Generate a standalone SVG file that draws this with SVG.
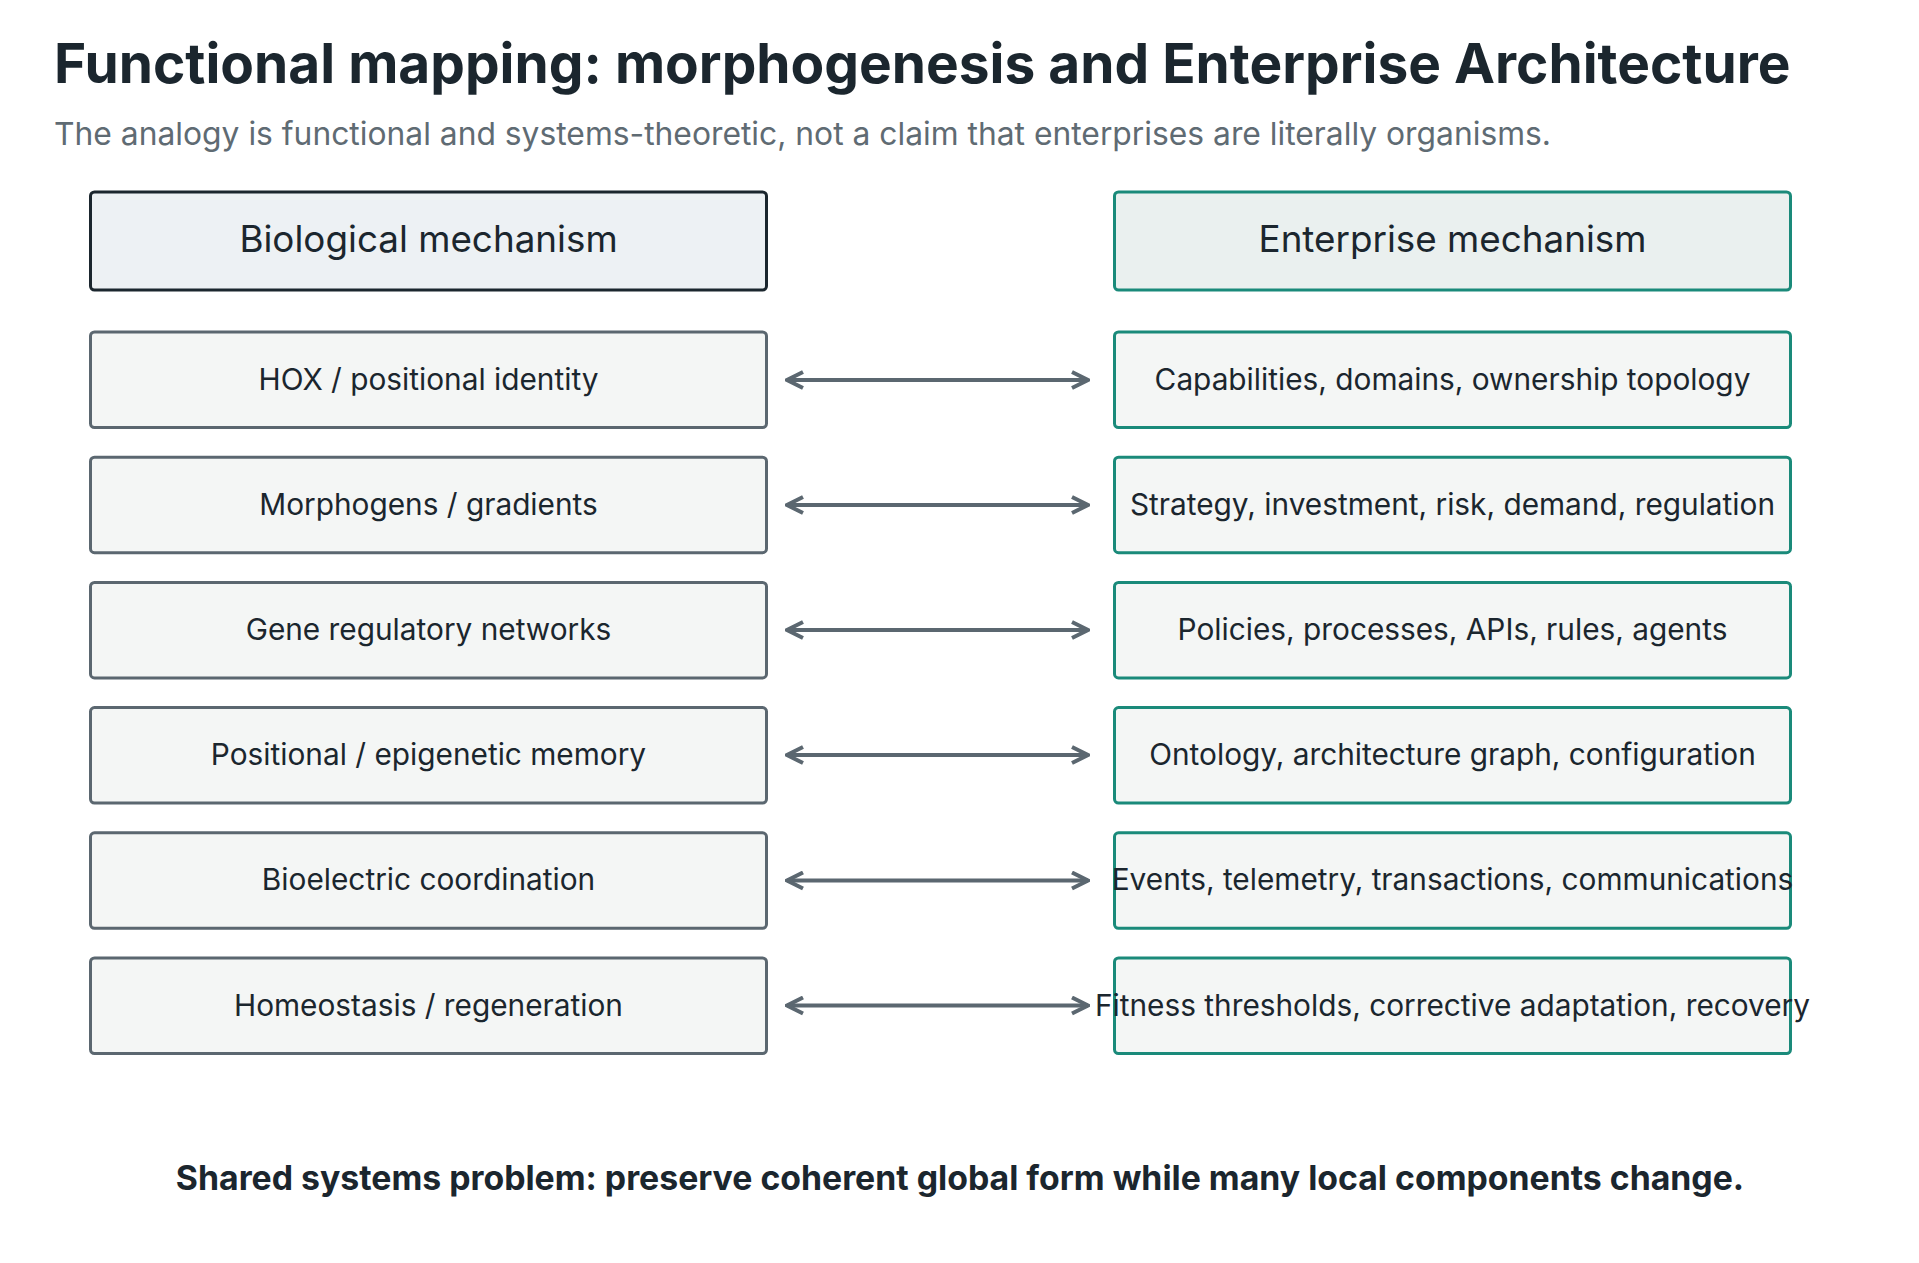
<svg xmlns="http://www.w3.org/2000/svg" width="1919" height="1263" viewBox="0 0 1919 1263">
<style>
text{font-family:Inter,"Noto Sans","Liberation Sans",sans-serif;fill:#1b262e}
.t{font-size:55px;font-weight:700}
.s{font-size:31.8px;fill:#5f6b73}
.h{font-size:36.8px;text-anchor:middle}
.r{font-size:29.8px;text-anchor:middle}
.f{font-size:33.8px;font-weight:700;text-anchor:middle}
.b{fill:#f4f6f5;stroke:#5b6770;stroke-width:3}
.e{fill:#f4f6f5;stroke:#1a8a7a;stroke-width:3}
.c{stroke:#5b6770;stroke-width:4;fill:none;marker-start:url(#a);marker-end:url(#a)}
</style>
<defs><marker id="a" viewBox="0 0 10 10" refX="9" refY="5" markerWidth="5" markerHeight="5" orient="auto-start-reverse" markerUnits="strokeWidth"><path d="M1,1 L9,5 L1,9" fill="none" stroke="#5b6770" stroke-width="2"/></marker></defs>
<text class="t" x="54" y="83">Functional mapping: morphogenesis and Enterprise Architecture</text>
<text class="s" x="54" y="145">The analogy is functional and systems-theoretic, not a claim that enterprises are literally organisms.</text>
<g id="hdr-bio"><rect x="90.5" y="192" width="676" height="98" rx="4" fill="#edf1f4" stroke="#1b262e" stroke-width="3"/><text class="h" x="428.5" y="252">Biological mechanism</text></g>
<g id="hdr-ent"><rect x="1114.5" y="192" width="676" height="98" rx="4" fill="#eaf0ef" stroke="#1a8a7a" stroke-width="3"/><text class="h" x="1452.5" y="252">Enterprise mechanism</text></g>
<g id="b1"><rect class="b" x="90.5" y="332" width="676" height="95.5" rx="4"/><text class="r" x="428.5" y="389.5">HOX / positional identity</text></g>
<g id="b2"><rect class="b" x="90.5" y="457.2" width="676" height="95.5" rx="4"/><text class="r" x="428.5" y="514.7">Morphogens / gradients</text></g>
<g id="b3"><rect class="b" x="90.5" y="582.4" width="676" height="95.5" rx="4"/><text class="r" x="428.5" y="639.9">Gene regulatory networks</text></g>
<g id="b4"><rect class="b" x="90.5" y="707.6" width="676" height="95.5" rx="4"/><text class="r" x="428.5" y="765.1">Positional / epigenetic memory</text></g>
<g id="b5"><rect class="b" x="90.5" y="832.8" width="676" height="95.5" rx="4"/><text class="r" x="428.5" y="890.3">Bioelectric coordination</text></g>
<g id="b6"><rect class="b" x="90.5" y="958" width="676" height="95.5" rx="4"/><text class="r" x="428.5" y="1015.5">Homeostasis / regeneration</text></g>
<g id="e1"><rect class="e" x="1114.5" y="332" width="676" height="95.5" rx="4"/><text class="r" x="1452.5" y="389.5">Capabilities, domains, ownership topology</text></g>
<g id="e2"><rect class="e" x="1114.5" y="457.2" width="676" height="95.5" rx="4"/><text class="r" x="1452.5" y="514.7">Strategy, investment, risk, demand, regulation</text></g>
<g id="e3"><rect class="e" x="1114.5" y="582.4" width="676" height="95.5" rx="4"/><text class="r" x="1452.5" y="639.9">Policies, processes, APIs, rules, agents</text></g>
<g id="e4"><rect class="e" x="1114.5" y="707.6" width="676" height="95.5" rx="4"/><text class="r" x="1452.5" y="765.1">Ontology, architecture graph, configuration</text></g>
<g id="e5"><rect class="e" x="1114.5" y="832.8" width="676" height="95.5" rx="4"/><text class="r" x="1452.5" y="890.3">Events, telemetry, transactions, communications</text></g>
<g id="e6"><rect class="e" x="1114.5" y="958" width="676" height="95.5" rx="4"/><text class="r" x="1452.5" y="1015.5">Fitness thresholds, corrective adaptation, recovery</text></g>
<g id="connectors">
<line class="c" x1="787" y1="380" x2="1088" y2="380"/>
<line class="c" x1="787" y1="505" x2="1088" y2="505"/>
<line class="c" x1="787" y1="630" x2="1088" y2="630"/>
<line class="c" x1="787" y1="755" x2="1088" y2="755"/>
<line class="c" x1="787" y1="880.5" x2="1088" y2="880.5"/>
<line class="c" x1="787" y1="1005.5" x2="1088" y2="1005.5"/>
</g>
<text class="f" x="960" y="1190">Shared systems problem: preserve coherent global form while many local components change.</text>
</svg>
